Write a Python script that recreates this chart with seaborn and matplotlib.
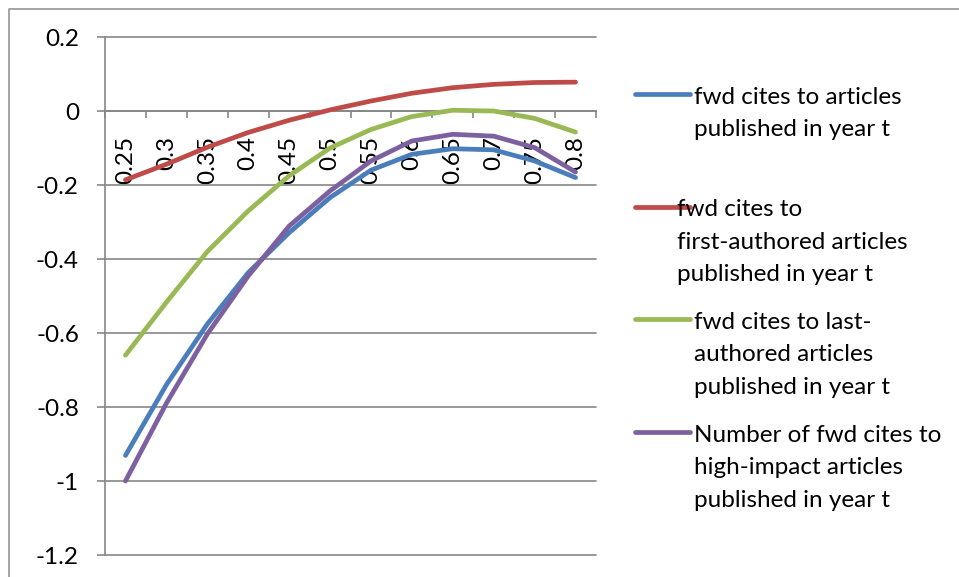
import matplotlib
matplotlib.use("Agg")
import matplotlib.pyplot as plt
import numpy as np
import pandas as pd
import seaborn as sns
from matplotlib.lines import Line2D

# Category axis: share thresholds
shares = ["0.25", "0.3", "0.35", "0.4", "0.45", "0.5",
          "0.55", "0.6", "0.65", "0.7", "0.75", "0.8"]

# Estimated effects for each outcome
all_articles = [-0.931, -0.740, -0.576, -0.437, -0.329, -0.234,
                -0.160, -0.117, -0.102, -0.105, -0.135, -0.180]
first_authored = [-0.186, -0.144, -0.098, -0.058, -0.025, 0.003,
                  0.027, 0.048, 0.063, 0.072, 0.077, 0.078]
last_authored = [-0.660, -0.517, -0.380, -0.270, -0.175, -0.100,
                 -0.050, -0.015, 0.002, 0.000, -0.020, -0.057]
high_impact = [-1.000, -0.790, -0.603, -0.446, -0.311, -0.216,
               -0.135, -0.081, -0.063, -0.068, -0.099, -0.165]

series_labels = [
    "fwd cites to articles\npublished in year t",
    "fwd cites to\nfirst-authored articles\npublished in year t",
    "fwd cites to last-\nauthored articles\npublished in year t",
    "Number of fwd cites to\nhigh-impact articles\npublished in year t",
]
series_colors = ["#4A7EBB", "#BE4B48", "#98B954", "#7D60A0"]
y_ticks = [0.2, 0.0, -0.2, -0.4, -0.6, -0.8, -1.0, -1.2]
y_tick_labels = ["0.2", "0", "-0.2", "-0.4", "-0.6", "-0.8", "-1", "-1.2"]

W, H = 959, 577
FONT = "Lato"
FS = 17.5
GRAY = "#868686"
LW = 3.4

sns.set_theme(style="white")
plt.rcParams["font.family"] = [FONT, "DejaVu Sans"]

df = pd.concat([
    pd.DataFrame({"pos": np.arange(len(shares)), "value": vals, "series": lab})
    for vals, lab in zip([all_articles, first_authored, last_authored, high_impact],
                         series_labels)
], ignore_index=True)


def fx(px):
    return px / W


def fy(px):
    return 1 - px / H


fig = plt.figure(figsize=(W / 100, H / 100), dpi=100)
fig.patch.set_facecolor("white")
ax = fig.add_axes([fx(105), fy(555), fx(596) - fx(105), fy(37) - fy(555)])

sns.lineplot(data=df, x="pos", y="value", hue="series", hue_order=series_labels,
             palette=series_colors, legend=False, sort=False,
             estimator=None, ax=ax)
for ln in ax.lines:
    ln.set_linewidth(LW)
    ln.set_solid_capstyle("round")
    ln.set_solid_joinstyle("round")
    ln.set_zorder(3)

ax.set_xlim(-0.5, len(shares) - 0.5)
ax.set_ylim(-1.2, 0.2)
ax.set_xlabel("")
ax.set_ylabel("")

# y axis
ax.set_yticks(y_ticks)
ax.set_yticklabels(y_tick_labels)
ax.yaxis.grid(True, color=GRAY, linewidth=1.2)
ax.xaxis.grid(False)
ax.tick_params(axis="y", direction="out", length=5.8, width=1.2, color=GRAY,
               pad=13, labelsize=FS, labelcolor="black", left=True)
for gl in ax.yaxis.get_gridlines():
    gl.set_clip_on(False)

# category axis crossing at zero
ax.set_xticks(np.arange(len(shares)))
ax.set_xticklabels(shares)
ax.set_xticks(np.arange(len(shares) + 1) - 0.5, minor=True)
ax.tick_params(axis="x", which="major", length=0, pad=18, labelsize=FS,
               labelcolor="black", bottom=True, labelrotation=90)
ax.tick_params(axis="x", which="minor", direction="out", length=5, width=1.2,
               color=GRAY, bottom=True)
for lbl in ax.get_xticklabels():
    lbl.set_rotation(90)
    lbl.set_va("top")
    lbl.set_ha("center")

for side in ("top", "right"):
    ax.spines[side].set_visible(False)
ax.spines["left"].set_color(GRAY)
ax.spines["left"].set_linewidth(1.2)
ax.spines["bottom"].set_position(("data", 0))
ax.spines["bottom"].set_color(GRAY)
ax.spines["bottom"].set_linewidth(1.2)
ax.set_facecolor("none")

# legend drawn to the right of the plot area
legend_handle_y = [94.3, 206.7, 319.3, 432.3]
legend_text_x = [694, 677, 694, 694]
row_step = 32.5
for label, color, hy, tx in zip(series_labels, series_colors, legend_handle_y, legend_text_x):
    fig.add_artist(Line2D([fx(635), fx(690)], [fy(hy), fy(hy)], color=color,
                          linewidth=LW, solid_capstyle="round",
                          transform=fig.transFigure, zorder=2))
    for i, row in enumerate(label.split("\n")):
        fig.text(fx(tx), fy(hy + 9.5 + i * row_step), row, fontsize=FS,
                 color="black", ha="left", va="baseline", zorder=4)

# chart area border
fig.add_artist(Line2D([fx(8.5), fx(8.5), fx(W)], [0, fy(9), fy(9)], color="#8c8c8c",
                      linewidth=1.1, transform=fig.transFigure))

fig.savefig("out.png", dpi=100, facecolor="white")
